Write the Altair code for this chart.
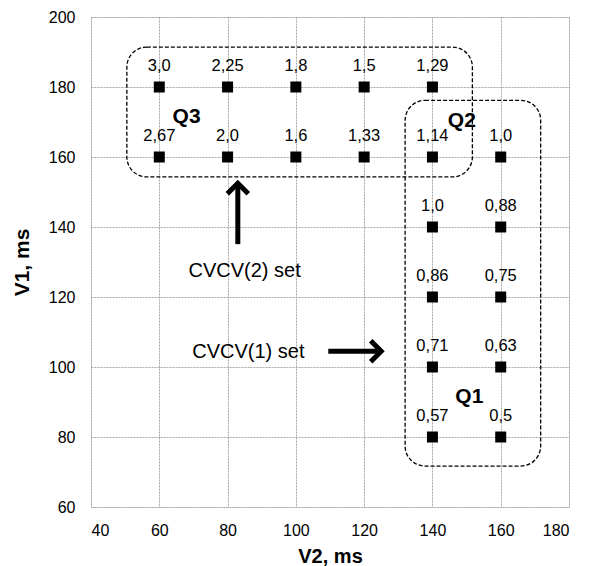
import altair as alt
import pandas as pd

# ---- data ----
v2 = [60, 60, 80, 80, 100, 100, 120, 120,
      140, 140, 140, 140, 140, 140,
      160, 160, 160, 160, 160]
v1 = [180, 160, 180, 160, 180, 160, 180, 160,
      180, 160, 140, 120, 100, 80,
      160, 140, 120, 100, 80]
ratio = ["3,0", "2,67", "2,25", "2,0", "1,8", "1,6", "1,5", "1,33",
         "1,29", "1,14", "1,0", "0,86", "0,71", "0,57",
         "1,0", "0,88", "0,75", "0,63", "0,5"]

# group boxes (data units)
box_name = ["Q3", "Q1Q2"]
box_x1 = [50.5, 132.0]
box_x2 = [151.7, 171.7]
box_y1 = [154.3, 71.7]
box_y2 = [191.4, 176.2]

# group labels
q_name = ["Q3", "Q2", "Q1"]
q_x = [68.0, 148.6, 150.8]
q_y = [169.7, 168.5, 89.8]

# annotations
ann_text = ["CVCV(2) set", "CVCV(1) set"]
ann_x = [85.0, 86.1]
ann_y = [125.7, 102.7]

# arrows: shaft start/end and head angle
arr_x1 = [83.0, 109.5]
arr_y1 = [135.1, 104.5]
arr_x2 = [83.0, 125.0]
arr_y2 = [152.5, 104.5]
arr_angle = [0, 90]

pts = pd.DataFrame({"V2": v2, "V1": v1, "ratio": ratio})
boxes = pd.DataFrame({"name": box_name, "x1": box_x1, "x2": box_x2,
                      "y1": box_y1, "y2": box_y2})
qs = pd.DataFrame({"name": q_name, "x": q_x, "y": q_y})
anns = pd.DataFrame({"text": ann_text, "x": ann_x, "y": ann_y})
arrows = pd.DataFrame({"x1": arr_x1, "y1": arr_y1, "x2": arr_x2,
                       "y2": arr_y2, "angle": arr_angle})

FONT = "Liberation Sans"
xs = alt.Scale(domain=[40, 180], nice=False)
ys = alt.Scale(domain=[60, 200], nice=False)

xax = alt.Axis(values=list(range(40, 181, 20)), title="V2, ms", ticks=False,
               domain=False, grid=True, gridColor="#a8a8a8", gridDash=[2, 1],
               labelFontSize=16, labelFont=FONT, labelColor="black",
               labelPadding=15, titleFontSize=20, titleFont=FONT,
               titleFontWeight="bold", titleColor="black", titlePadding=8)
yax = alt.Axis(values=list(range(60, 201, 20)), title="V1, ms", ticks=False,
               domain=False, grid=True, gridColor="#a8a8a8", gridDash=[2, 1],
               labelFontSize=16, labelFont=FONT, labelColor="black",
               labelPadding=16, titleFontSize=21, titleFont=FONT,
               titleFontWeight="bold", titleColor="black", titlePadding=16)

base_pts = alt.Chart(pts)

points = base_pts.mark_square(size=121, color="black", opacity=1).encode(
    x=alt.X("V2:Q", scale=xs, axis=xax),
    y=alt.Y("V1:Q", scale=ys, axis=yax),
)

labels = base_pts.mark_text(fontSize=16.5, font=FONT, dy=-16,
                            baseline="alphabetic", color="black").encode(
    x=alt.X("V2:Q", scale=xs), y=alt.Y("V1:Q", scale=ys), text="ratio:N")

rects = alt.Chart(boxes).mark_rect(fill="transparent", stroke="black",
                                   strokeDash=[4, 2], strokeWidth=1.3,
                                   cornerRadius=20).encode(
    x=alt.X("x1:Q", scale=xs), x2="x2:Q",
    y=alt.Y("y1:Q", scale=ys), y2="y2:Q")

qtext = alt.Chart(qs).mark_text(fontSize=21, font=FONT, fontWeight="bold",
                                baseline="alphabetic", color="black").encode(
    x=alt.X("x:Q", scale=xs), y=alt.Y("y:Q", scale=ys), text="name:N")

anntext = alt.Chart(anns).mark_text(fontSize=20, font=FONT,
                                    baseline="alphabetic", color="black").encode(
    x=alt.X("x:Q", scale=xs), y=alt.Y("y:Q", scale=ys), text="text:N")

shafts = alt.Chart(arrows).mark_rule(strokeWidth=5, color="black").encode(
    x=alt.X("x1:Q", scale=xs), x2="x2:Q",
    y=alt.Y("y1:Q", scale=ys), y2="y2:Q")

heads = alt.Chart(arrows).mark_point(
    shape="M-1,1L0,0L1,1", size=440, filled=False, stroke="black",
    strokeWidth=5, opacity=1, strokeJoin="miter").encode(
    x=alt.X("x2:Q", scale=xs), y=alt.Y("y2:Q", scale=ys),
    angle=alt.Angle("angle:Q", scale=None))

chart = alt.layer(rects, points, labels, qtext, anntext, shafts, heads).properties(
    width=478, height=490,
    autosize=alt.AutoSizeParams(type="none"),
    padding={"left": 91, "top": 17, "right": 22, "bottom": 59},
).configure_view(stroke="#969696", strokeWidth=2).configure(background="white")

chart.save("out.html", embed_options={"renderer": "svg", "actions": False})
